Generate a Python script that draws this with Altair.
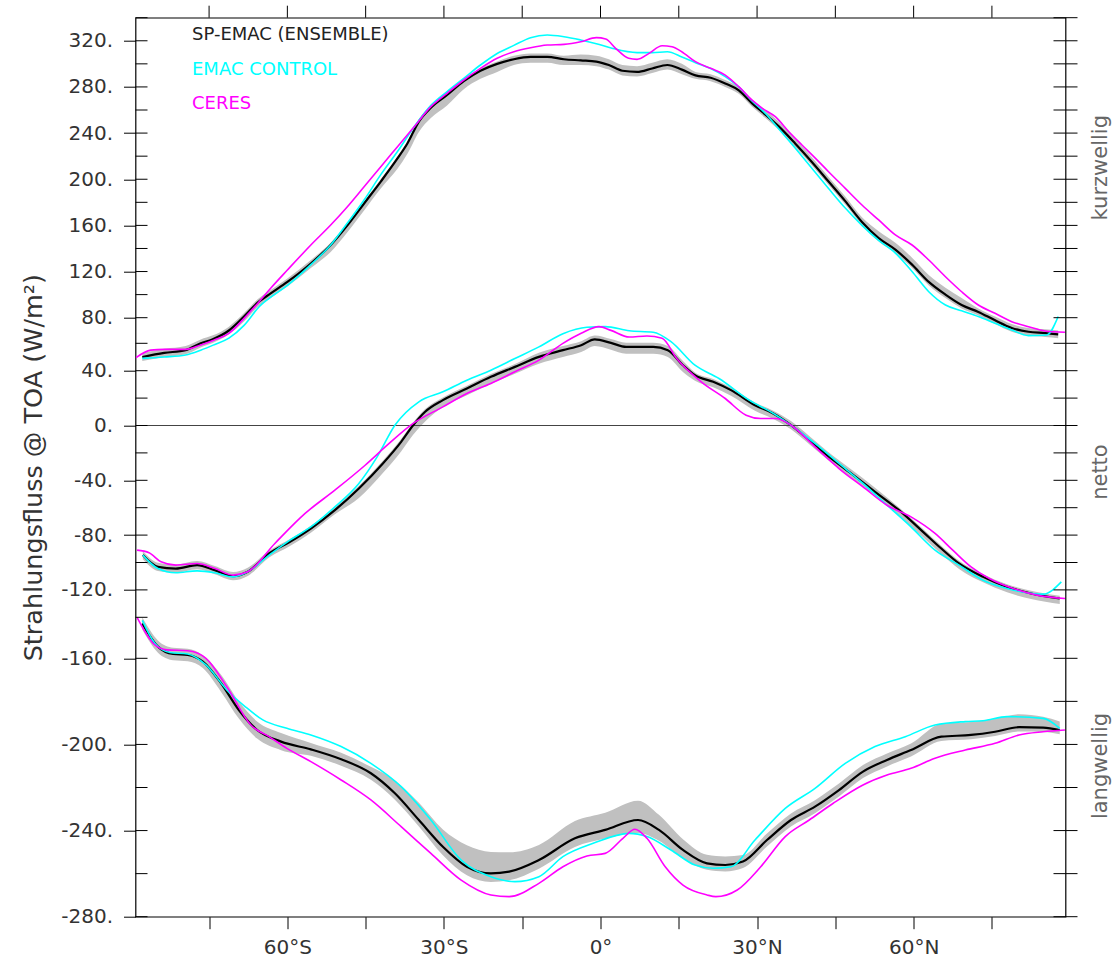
import altair as alt
import pandas as pd

# ---------------- zonal means of TOA radiative flux (W/m^2) ----------------
# shortwave ("kurzwellig")
sw_sp_lat = [-87.8, -83.6, -79.5, -76.6, -74.4, -71.2, -68.3, -65.7, -63.2, -60.0,
             -55.5, -51.7, -48.5, -45.3, -42.1, -38.9, -37.0, -34.8, -32.5, -29.4,
             -26.2, -23.0, -19.8, -16.6, -13.4, -10.2, -7.0, -3.8, -0.8, 1.6,
             4.2, 7.0, 9.9, 12.8, 15.6, 18.2, 21.1, 23.9, 26.5, 29.0,
             31.6, 34.1, 37.3, 40.5, 43.7, 46.9, 50.1, 53.3, 56.5, 59.7,
             62.9, 66.1, 69.2, 72.4, 75.6, 78.8, 82.0, 85.2, 87.7]
sw_sp = [50, 53, 55, 60, 63, 70, 81, 93, 101, 111,
         127, 143, 160, 179, 198, 218, 231, 250, 262, 273,
         285, 294, 300, 304, 306, 306, 304, 303, 302, 299,
         294, 293, 296, 299, 295, 290, 288, 283, 277, 266,
         256, 246, 231, 215, 198, 181, 163, 149, 139, 126,
         111, 100, 91, 85, 78, 72, 69, 68, 67]
sw_sp_lo = [47, 50, 52, 57, 60, 67, 77, 89, 97, 107,
            123, 137, 154, 173, 192, 209, 222, 241, 253, 264,
            278, 287, 293, 299, 301, 301, 299, 299, 298, 295,
            290, 289, 292, 295, 291, 287, 285, 280, 274, 263,
            253, 243, 228, 212, 195, 178, 160, 146, 136, 123,
            108, 97, 88, 82, 75, 69, 66, 65, 64]
sw_sp_hi = [53, 56, 58, 63, 66, 73, 84, 96, 104, 114,
            130, 145, 162, 181, 200, 220, 233, 252, 264, 275,
            287, 296, 302, 307, 309, 309, 307, 308, 307, 304,
            299, 298, 301, 304, 300, 293, 291, 286, 280, 269,
            260, 250, 235, 219, 202, 185, 167, 155, 145, 132,
            117, 106, 97, 88, 81, 75, 72, 71, 70]

sw_ctl_lat = [-87.8, -83.6, -79.5, -76.6, -74.0, -71.2, -68.3, -65.4, -62.5, -60.0,
              -55.5, -51.7, -48.5, -45.3, -42.1, -38.9, -35.7, -32.5, -29.4, -26.2,
              -23.0, -19.8, -16.6, -13.4, -10.2, -7.0, -3.8, -0.8, 2.2, 7.0,
              9.9, 12.8, 15.6, 18.2, 21.1, 23.9, 26.5, 29.0, 31.6, 34.1,
              37.3, 40.5, 43.7, 46.9, 50.1, 53.3, 56.5, 59.7, 62.9, 66.1,
              69.2, 72.4, 75.6, 78.8, 82.0, 85.5, 87.7]
sw_ctl = [49, 50, 51.5, 55, 59, 64, 74, 89.5, 100, 108,
          126, 143, 162, 182, 204, 224, 245.5, 264, 276, 287.5,
          299, 309, 316, 322.7, 325, 323.5, 320.7, 317.5, 313.5, 309.7,
          309.7, 310.5, 306, 301, 296, 289, 280, 268, 257, 244,
          227, 209.5, 192, 175, 160, 147, 136, 120, 102.5, 91,
          86, 81, 75.6, 70.4, 66, 66.5, 81]

sw_ceres_lat = [-89.0, -86.2, -83.6, -79.5, -76.6, -74.0, -71.2, -68.3, -65.4, -63.2,
                -60.0, -55.5, -51.7, -48.5, -45.3, -42.1, -38.9, -35.7, -32.5, -29.4,
                -26.2, -23.0, -19.8, -16.6, -13.4, -10.2, -7.0, -3.8, -0.8, 1.0,
                2.9, 5.4, 7.0, 9.3, 11.8, 13.7, 16.0, 18.2, 21.1, 23.9,
                26.5, 29.0, 31.0, 33.5, 36.1, 38.6, 41.2, 43.7, 46.9, 50.1,
                53.3, 56.5, 59.7, 62.9, 66.1, 69.2, 72.4, 75.6, 78.8, 82.0,
                85.2, 89.0]
sw_ceres = [49.5, 55, 55.6, 55.6, 58.8, 62.6, 67.8, 79.5, 93.9, 105.5,
            121.3, 143, 160.3, 176.2, 193.5, 210.9, 228.2, 245.5, 262.9, 274.5,
            286, 296.1, 304.8, 310.5, 314, 316.3, 316.9, 319.2, 322.7, 321.5,
            313.5, 304.8, 303.9, 309.1, 315.7, 314.9, 309.1, 301.9, 296.1, 290.3,
            280.2, 268.7, 261.5, 254.2, 241.2, 229.7, 218.1, 206.5, 192.1, 177.7,
            164.7, 151.7, 143, 130, 115.5, 102.5, 91, 83.8, 76.9, 73,
            69.6, 68.6]

# net ("netto")
net_sp_lat = [-87.7, -84.8, -81.4, -77.3, -73.9, -70.4, -67.6, -63.5, -59.5, -55.5,
              -50.9, -46.3, -41.7, -38.2, -35.9, -33.6, -30.2, -25.6, -21.0, -16.4,
              -11.8, -7.2, -3.7, -1.1, 2.0, 4.9, 10.1, 12.9, 15.8, 18.1,
              21.6, 25.0, 29.6, 33.1, 36.5, 40.0, 43.4, 48.0, 52.6, 57.2,
              61.8, 65.3, 68.7, 73.3, 77.9, 82.5, 88.0]
net_sp = [-94.6, -103.2, -104.4, -101.9, -105.6, -110, -106.8, -93.4, -84.9, -75.2,
          -61.8, -46, -27.7, -11.9, 0.2, 10, 18.5, 27, 35.5, 42.8,
          50.1, 55, 58.6, 63, 60.3, 57.4, 57.4, 55, 44, 36.7,
          31.9, 25.8, 14.8, 8.8, 0.2, -10.7, -21.7, -35, -48.4, -61.8,
          -77.6, -89.8, -100.7, -110.5, -117.8, -122.6, -126.3]
net_sp_lo = [-97.6, -106.2, -107.4, -104.9, -108.6, -113, -109.8, -96.4, -87.9, -78.2,
             -64.8, -53, -34.7, -18.9, -6.8, 3, 13.5, 22, 30.5, 37.8,
             45.1, 50, 53.6, 58, 55.3, 52.4, 52.4, 50, 39, 32.7,
             27.9, 21.8, 10.8, 4.8, -2.8, -13.7, -24.7, -38, -51.4, -65.8,
             -81.6, -93.8, -104.7, -114.5, -121.8, -126.6, -130.3]
net_sp_hi = [-91.6, -100.2, -101.4, -98.9, -102.6, -107, -103.8, -91.4, -82.9, -73.2,
             -59.8, -44, -25.7, -9.9, 2.2, 12, 20.5, 29, 37.5, 44.8,
             53.1, 58, 61.6, 66, 63.3, 60.4, 60.4, 58, 47, 38.7,
             33.9, 27.8, 16.8, 10.8, 3.2, -7.7, -18.7, -32, -45.4, -59.8,
             -75.6, -87.8, -98.7, -108.5, -115.8, -120.6, -124.3]

net_ctl_lat = [-87.7, -84.8, -81.4, -77.3, -73.9, -70.4, -67.6, -63.5, -59.5, -55.5,
               -50.9, -46.3, -42.8, -39.4, -34.8, -30.2, -25.6, -21.0, -16.4, -11.8,
               -7.2, -2.6, 0.9, 5.5, 10.1, 13.5, 18.1, 22.7, 28.5, 33.1,
               36.5, 41.1, 45.7, 50.3, 54.9, 59.5, 64.1, 68.7, 73.3, 77.9,
               84.8, 88.3]
net_ctl = [-94.6, -104.4, -107.5, -106.1, -107.5, -110.5, -106.8, -94.6, -83.7, -74,
           -59.4, -42.3, -22.9, 0.2, 17.3, 24.6, 33.1, 40.4, 48.9, 57.4,
           67.5, 72.5, 73, 69.8, 68.6, 61.3, 44, 34.3, 18.5, 8.8,
           0.2, -13.1, -27.7, -42.3, -58.2, -74, -91, -101.9, -112.9, -119,
           -123.1, -114.1]

net_ceres_lat = [-88.8, -86.5, -84.2, -81.4, -77.3, -73.9, -70.4, -67.6, -62.4, -56.6,
                 -50.9, -45.1, -40.5, -35.9, -30.2, -25.6, -21.0, -16.4, -11.8, -7.2,
                 -3.7, -0.3, 2.0, 5.5, 8.9, 11.8, 14.6, 19.3, 23.9, 27.9,
                 30.7, 33.6, 36.5, 41.1, 45.7, 50.3, 54.9, 59.5, 64.1, 67.5,
                 71.0, 74.5, 79.1, 83.6, 89.0]
net_ceres = [-91, -92.9, -99.5, -101.9, -100.7, -104.4, -109.2, -106.8, -86.1, -64.2,
             -47.2, -29, -13.1, 1.5, 13.6, 23.4, 30.7, 39.2, 47.7, 59.9,
             67.8, 73, 70.1, 64.9, 65.7, 63.9, 48.9, 31.9, 19.7, 7.5,
             5.1, 5.1, 0.2, -15.6, -31.4, -44.8, -58.2, -66.7, -78.8, -91,
             -103.2, -111.7, -119, -123.8, -126.3]

# longwave ("langwellig")
lw_sp_lat = [-87.8, -84.8, -81.9, -79.1, -76.2, -72.7, -69.3, -65.8, -61.2, -55.5,
             -49.7, -44.0, -39.4, -34.8, -30.2, -25.6, -21.0, -17.5, -11.8, -4.9,
             0.9, 7.2, 11.2, 15.8, 20.4, 23.9, 27.3, 31.9, 36.5, 41.1,
             45.7, 50.3, 54.9, 59.5, 65.3, 71.0, 75.6, 80.2, 84.8, 88.0]
lw_sp = [-143, -154.3, -157.9, -158.4, -161.5, -171.6, -184, -193.3, -198.7, -202.3,
         -206.9, -213.4, -222.7, -235.1, -247.5, -256.8, -259.9, -259.1, -253.7, -243.6,
         -239.7, -235.1, -239.7, -249, -255.2, -256, -254.4, -244.4, -235.1, -228.9,
         -221.2, -212.6, -207.2, -202.6, -196.4, -195.6, -194.1, -192, -192.2, -193.3]
lw_sp_lo = [-146, -157.3, -160.9, -161.4, -164.5, -175.6, -188, -197.3, -202.7, -205.3,
            -209.9, -216.4, -225.7, -238.1, -251.5, -260.8, -263.9, -263.1, -257.7, -247.6,
            -243.7, -241.1, -244.7, -253, -258.2, -259, -257.4, -247.4, -238.1, -231.9,
            -224.2, -215.6, -210.2, -205.6, -198.4, -197.6, -196.1, -194, -194.2, -195.3]
lw_sp_hi = [-140, -151.3, -154.9, -155.4, -158.5, -167.6, -180, -189.3, -194.7, -199.3,
            -203.9, -210.4, -216.7, -227.1, -239.5, -246.8, -249.9, -250.1, -246.7, -235.6,
            -231.7, -226.1, -232.7, -244, -251.2, -252, -251.4, -241.4, -232.1, -225.9,
            -218.2, -209.6, -204.2, -199.6, -190.4, -189.6, -188.1, -186, -187.2, -189.3]

lw_ctl_lat = [-87.8, -85.4, -82.5, -79.1, -75.6, -71.6, -68.1, -64.7, -60.1, -55.5,
              -49.7, -44.0, -38.2, -32.5, -26.7, -21.0, -16.4, -11.8, -7.2, -1.4,
              5.5, 8.9, 13.5, 18.1, 21.6, 25.0, 29.6, 35.4, 41.1, 46.9,
              52.6, 58.4, 64.1, 69.9, 73.3, 77.9, 84.8, 88.0]
lw_ctl = [-141.5, -152.7, -157.2, -157.9, -163.1, -174.7, -182.4, -188.6, -192.5, -195.6,
          -201, -208.8, -219.6, -235.1, -253.7, -261.4, -263.7, -261.4, -252.1, -245.9,
          -241.3, -242.8, -249, -256, -257.5, -256.8, -244.4, -229.7, -220.4, -208.8,
          -201, -196.4, -191, -189.4, -189, -187.1, -187.9, -192.5]

lw_ceres_lat = [-88.8, -85.4, -83.1, -79.1, -75.6, -71.6, -67.0, -63.5, -60.1, -55.5,
                -49.7, -44.0, -38.2, -32.5, -26.7, -21.0, -17.5, -11.8, -7.2, -2.6,
                0.9, 4.3, 6.6, 8.9, 12.4, 15.8, 20.4, 22.1, 26.2, 30.7,
                35.4, 40.0, 44.6, 50.3, 54.9, 59.5, 64.1, 69.9, 75.6, 80.2,
                84.8, 89.0]
lw_ceres = [-140, -153.5, -155.9, -156.3, -160, -173.2, -191, -196.4, -201.8, -208,
            -216.5, -225.8, -238.2, -250.6, -263, -269.9, -270.7, -264.5, -256.8, -251.8,
            -250.6, -243.6, -239.4, -243.6, -256.8, -265.3, -269.9, -270.7, -267.6, -256.8,
            -242.8, -235.1, -227.3, -218.8, -214.2, -211.1, -206.4, -202.6, -199.5, -195.6,
            -194.1, -193.3]

# axis ticks and annotations
y_ticks = list(range(-280, 341, 20))
x_ticks = list(range(-75, 76, 15))
panel_names = ["kurzwellig", "netto", "langwellig"]
panel_label_y = [210, -34, -210]
legend_names = ["SP-EMAC (ENSEMBLE)", "EMAC CONTROL", "CERES"]
legend_colors = ["#222222", "#00FFFF", "#FF00FF"]

W, H = 930, 899
FONT = "DejaVu Sans"


def curves(parts):
    rows = []
    for comp, lats, vals in parts:
        for la, v in zip(lats, vals):
            rows.append({"lat": la, "flux": v, "comp": comp})
    return pd.DataFrame(rows)


def spread(parts):
    rows = []
    for comp, lats, lo, hi in parts:
        for la, a, b in zip(lats, lo, hi):
            rows.append({"lat": la, "lo": a, "hi": b, "comp": comp})
    return pd.DataFrame(rows)


sp_df = curves([("sw", sw_sp_lat, sw_sp), ("net", net_sp_lat, net_sp), ("lw", lw_sp_lat, lw_sp)])
ctl_df = curves([("sw", sw_ctl_lat, sw_ctl), ("net", net_ctl_lat, net_ctl), ("lw", lw_ctl_lat, lw_ctl)])
ceres_df = curves([("sw", sw_ceres_lat, sw_ceres), ("net", net_ceres_lat, net_ceres),
                   ("lw", lw_ceres_lat, lw_ceres)])
band_df = spread([("sw", sw_sp_lat, sw_sp_lo, sw_sp_hi),
                  ("net", net_sp_lat, net_sp_lo, net_sp_hi),
                  ("lw", lw_sp_lat, lw_sp_lo, lw_sp_hi)])

# irregular (piecewise linear) flux axis: each flux component gets its own stretch
ys = alt.Scale(domain=[-280, -160, -140, 60, 80, 340],
               range=[H, 640.6, 599.6, 325.6, 300, 0], zero=False, nice=False)
xs = alt.Scale(domain=[-89.1, 89.1], zero=False, nice=False)

y_axis = alt.Axis(
    values=y_ticks,
    labelExpr="datum.value % 40 === 0 && datum.value <= 320 ? datum.value + '.' : ''",
    tickSize=12, tickColor="black", tickWidth=1, domain=False, grid=False,
    labelFont=FONT, labelFontSize=20, labelColor="#333333", labelPadding=11,
    labelOverlap=False, labelFlush=False,
    title="Strahlungsfluss @ TOA (W/m²)", titleFont=FONT, titleFontSize=25.5,
    titleFontWeight="normal", titleColor="#333333", titlePadding=14,
)
x_axis = alt.Axis(
    values=x_ticks,
    labelExpr="datum.value === 0 ? '0°' : (datum.value % 30 === 0 ? "
              "abs(datum.value) + '°' + (datum.value < 0 ? 'S' : 'N') : '')",
    tickSize=12, tickColor="black", tickWidth=1, domain=False, grid=False,
    labelFont=FONT, labelFontSize=20, labelColor="#333333", labelPadding=9,
    labelOverlap=False, labelFlush=False, title=None,
)

band = alt.Chart(band_df).mark_area(color="#C0C0C0", interpolate="monotone").encode(
    x=alt.X("lat:Q", scale=xs, axis=x_axis),
    y=alt.Y("lo:Q", scale=ys, axis=y_axis),
    y2="hi:Q",
    detail="comp:N",
)

zero_df = pd.DataFrame({"v": [0]})
zero_line = alt.Chart(zero_df).mark_rule(color="#444444", strokeWidth=1).encode(
    y=alt.Y("v:Q", scale=ys), x=alt.value(0), x2=alt.value(W)
)


def line_layer(df, color, width):
    return alt.Chart(df).mark_line(color=color, strokeWidth=width, interpolate="monotone").encode(
        x=alt.X("lat:Q", scale=xs),
        y=alt.Y("flux:Q", scale=ys),
        detail="comp:N",
    )


sp_line = line_layer(sp_df, "black", 2.2)
ctl_line = line_layer(ctl_df, "#00FFFF", 1.6)
ceres_line = line_layer(ceres_df, "#FF00FF", 1.6)

# tick marks crossing the left and right frame, outward ticks along the top
yt_df = pd.DataFrame({"v": y_ticks})
left_in = alt.Chart(yt_df).mark_rule(color="black", strokeWidth=1).encode(
    y=alt.Y("v:Q", scale=ys), x=alt.value(0), x2=alt.value(12)
)
right_ticks = alt.Chart(yt_df).mark_rule(color="black", strokeWidth=1).encode(
    y=alt.Y("v:Q", scale=ys), x=alt.value(W - 12), x2=alt.value(W + 12)
)
xt_df = pd.DataFrame({"lat": x_ticks})
top_ticks = alt.Chart(xt_df).mark_rule(color="black", strokeWidth=1).encode(
    x=alt.X("lat:Q", scale=xs), y=alt.value(-12), y2=alt.value(0)
)

panel_df = pd.DataFrame({"name": panel_names, "ypos": panel_label_y})
panel_text = alt.Chart(panel_df).mark_text(
    angle=270, font=FONT, fontSize=21, color="#666666", align="center", baseline="middle"
).encode(y=alt.Y("ypos:Q", scale=ys), x=alt.value(W + 35), text="name:N")

legend_layers = []
for i, (name, col) in enumerate(zip(legend_names, legend_colors)):
    legend_layers.append(
        alt.Chart(pd.DataFrame({"t": [name]})).mark_text(
            font=FONT, fontSize=18, color=col, align="left", baseline="middle"
        ).encode(x=alt.value(56.5), y=alt.value(17.5 + 34.5 * i), text="t:N")
    )

chart = alt.layer(
    band, zero_line, sp_line, ctl_line, ceres_line,
    left_in, right_ticks, top_ticks, panel_text, *legend_layers
).properties(
    width=W, height=H,
    autosize=alt.AutoSizeParams(type="none"),
    padding={"left": 135.5, "top": 17.7, "right": 53.5, "bottom": 45.3},
).configure_view(stroke="black", strokeWidth=1.2)

chart.save("out.html", embed_options={"renderer": "svg", "actions": False})
